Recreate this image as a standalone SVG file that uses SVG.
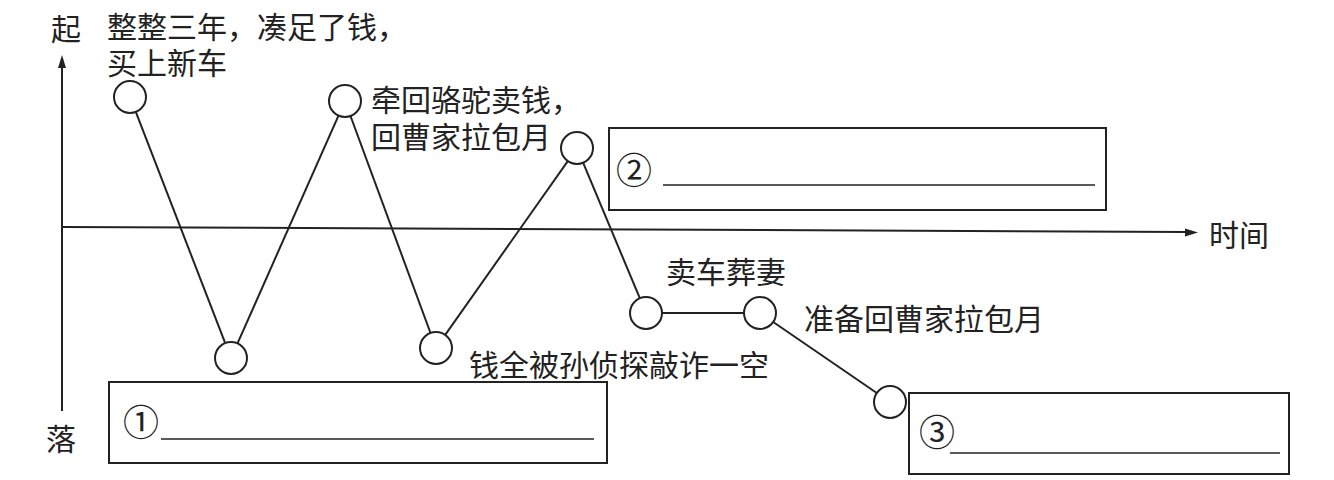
<svg xmlns="http://www.w3.org/2000/svg" width="1334" height="480" viewBox="0 0 1334 480">
<style>
  .t { font-family: "Liberation Sans", "Noto Sans CJK SC", sans-serif; font-size: 30px; fill: #222; }
  .num { font-family: "Noto Sans CJK SC", "DejaVu Sans", sans-serif; font-size: 36px; fill: #222; text-anchor: middle; dominant-baseline: central; }
  .node { fill: #fff; stroke: #222; stroke-width: 2; }
  .edge { stroke: #222; stroke-width: 2; fill: none; }
  .box { fill: #fff; stroke: #222; stroke-width: 2; }
  .blank { stroke: #222; stroke-width: 1.6; }
  .axis { stroke: #222; stroke-width: 2; fill: none; }
</style>
<rect width="1334" height="480" fill="#fff"/>

<g id="axes">
  <line class="axis" x1="62" y1="411" x2="62" y2="66"/>
  <polygon points="62,55 58,68 66,68" fill="#222"/>
  <line class="axis" x1="62" y1="227" x2="1187" y2="232"/>
  <polygon points="1198,232.5 1185,228.5 1185,236.5" fill="#222"/>
  <text class="t" x="51" y="40">起</text>
  <text class="t" x="46" y="450">落</text>
  <text class="t" x="1209" y="246">时间</text>
</g>

<g id="connectors">
  <line class="edge" x1="135.8" y1="111.9" x2="225.2" y2="343.1"/>
  <line class="edge" x1="237.5" y1="343.4" x2="338.5" y2="115.6"/>
  <line class="edge" x1="350.5" y1="116.0" x2="430.5" y2="333.0"/>
  <line class="edge" x1="445.2" y1="334.9" x2="567.8" y2="161.1"/>
  <line class="edge" x1="583.2" y1="162.8" x2="639.8" y2="298.2"/>
  <line class="edge" x1="662" y1="313" x2="744" y2="313"/>
  <line class="edge" x1="773.2" y1="322.0" x2="876.8" y2="393.0"/>
</g>

<g id="node-a">
  <circle class="node" cx="130" cy="97" r="16"/>
  <text class="t" x="107" y="38">整整三年，凑足了钱，</text>
  <text class="t" x="107" y="74">买上新车</text>
</g>
<g id="node-b">
  <circle class="node" cx="231" cy="358" r="16"/>
</g>
<g id="node-c">
  <circle class="node" cx="345" cy="101" r="16"/>
  <text class="t" x="371" y="111">牵回骆驼卖钱，</text>
  <text class="t" x="371" y="148">回曹家拉包月</text>
</g>
<g id="node-d">
  <circle class="node" cx="436" cy="348" r="16"/>
  <text class="t" x="469" y="376">钱全被孙侦探敲诈一空</text>
</g>
<g id="node-e">
  <circle class="node" cx="577" cy="148" r="16"/>
</g>
<g id="node-f">
  <circle class="node" cx="646" cy="313" r="16"/>
  <text class="t" x="666" y="283">卖车葬妻</text>
</g>
<g id="node-g">
  <circle class="node" cx="760" cy="313" r="16"/>
  <text class="t" x="804" y="330">准备回曹家拉包月</text>
</g>
<g id="node-h">
  <circle class="node" cx="890" cy="402" r="16"/>
</g>

<g id="box-1">
  <rect class="box" x="109" y="382" width="498" height="81"/>
  <text class="num" x="141" y="420">①</text>
  <line class="blank" x1="161" y1="439" x2="594" y2="439"/>
</g>
<g id="box-2">
  <rect class="box" x="609" y="128" width="497" height="82"/>
  <text class="num" x="634" y="168">②</text>
  <line class="blank" x1="663" y1="185" x2="1095" y2="185"/>
</g>
<g id="box-3">
  <rect class="box" x="909" y="393" width="380" height="81"/>
  <text class="num" x="937" y="430">③</text>
  <line class="blank" x1="950" y1="453" x2="1280" y2="453"/>
</g>
</svg>
